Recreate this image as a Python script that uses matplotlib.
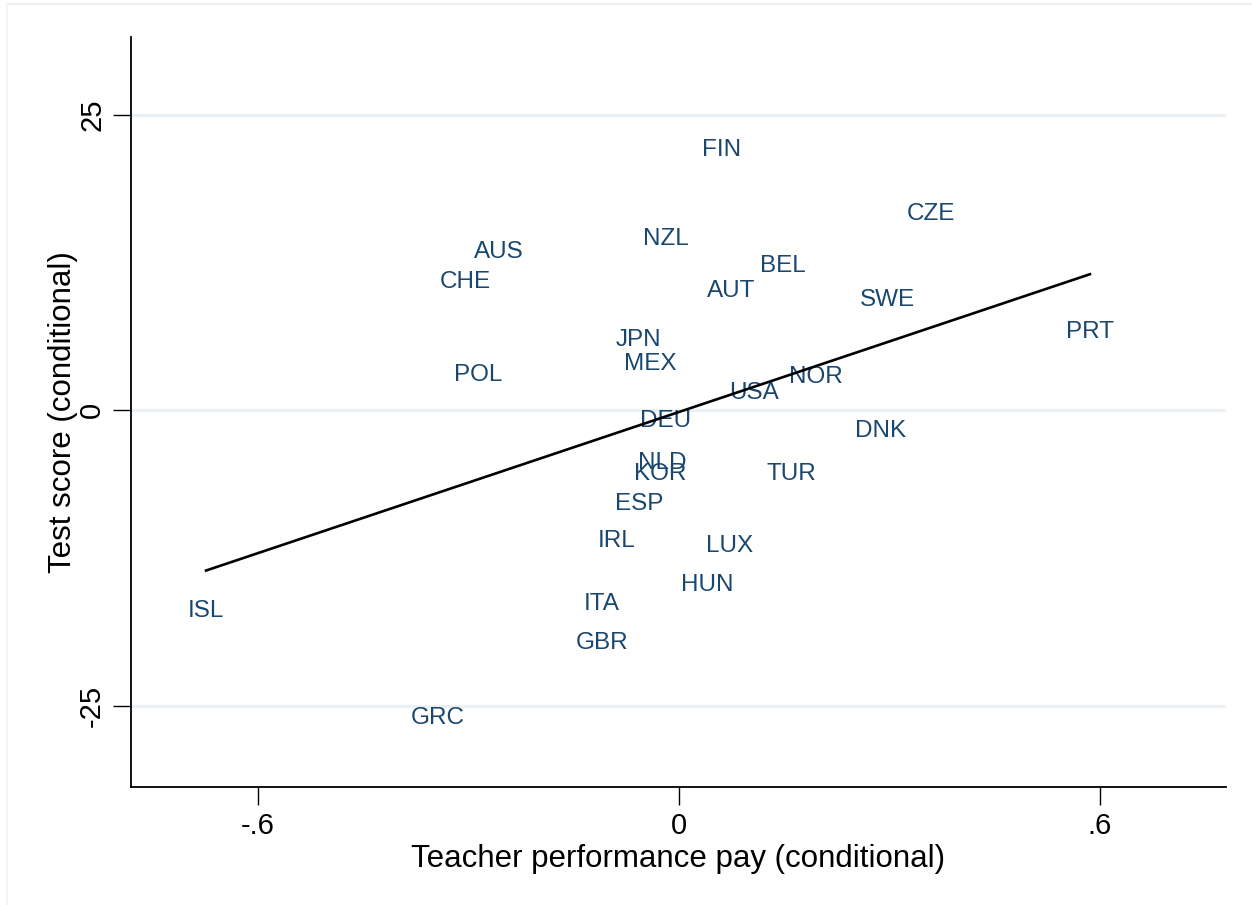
import numpy as np
import matplotlib
matplotlib.use("Agg")
import matplotlib.pyplot as plt
from matplotlib.lines import Line2D
from matplotlib.transforms import offset_copy

countries = ["FIN", "CZE", "NZL", "AUS", "BEL", "CHE", "AUT", "SWE", "PRT", "JPN",
             "MEX", "POL", "NOR", "USA", "DEU", "DNK", "NLD", "KOR", "TUR", "ESP",
             "IRL", "LUX", "HUN", "ITA", "ISL", "GBR", "GRC"]
perf_pay = [0.061, 0.359, -0.019, -0.257, 0.148, -0.304, 0.074, 0.298, 0.586, -0.058,
            -0.041, -0.286, 0.195, 0.107, -0.019, 0.288, -0.023, -0.027, 0.160, -0.057,
            -0.088, 0.073, 0.040, -0.110, -0.674, -0.110, -0.343]
test_score = [22.25, 16.8, 14.7, 13.6, 12.4, 11.0, 10.3, 9.5, 6.8, 6.1,
              4.1, 3.2, 3.0, 1.6, -0.7, -1.6, -4.3, -5.2, -5.2, -7.8,
              -10.9, -11.3, -14.6, -16.2, -16.8, -19.5, -25.9]
x_ticks = [-0.6, 0, 0.6]
x_ticklabels = ["-.6", "0", ".6"]
y_ticks = [-25, 0, 25]
y_ticklabels = ["-25", "0", "25"]

plt.rcParams['font.family'] = ['Liberation Sans', 'DejaVu Sans']

W, H = 1252, 905
fig = plt.figure(figsize=(W / 100, H / 100), dpi=100)
fig.patch.set_facecolor("white")
ax = fig.add_axes([131 / W, 1 - 787 / H, (1226 - 131) / W, (787 - 37) / H])

x = np.array(perf_pay)
y = np.array(test_score)

lab_tr = offset_copy(ax.transData, fig=fig, x=0, y=-1.5, units="points")
for c, xi, yi in zip(countries, x, y):
    ax.text(xi, yi, c, ha="center", va="center", fontsize=17.5, color="#1a476f",
            transform=lab_tr)

slope, intercept = np.polyfit(x, y, 1)
xl = np.array([x.min(), x.max()])
ax.plot(xl, intercept + slope * xl, color="black", lw=1.9, zorder=3)

ax.set_xlim(-0.781, 0.780)
ax.set_ylim(-31.9, 31.6)
ax.set_xticks(x_ticks)
ax.set_xticklabels(x_ticklabels)
ax.set_yticks(y_ticks)
ax.set_yticklabels(y_ticklabels, rotation=90, va="center")
for t in y_ticks:
    ax.axhline(t, color="#ebf0f5", lw=2.2, zorder=0)

for s in ["top", "right"]:
    ax.spines[s].set_visible(False)
for s in ["left", "bottom"]:
    ax.spines[s].set_linewidth(1.3)
    ax.spines[s].set_color("black")
ax.tick_params(axis="both", length=13, width=1.0, labelsize=21, pad=5, colors="black")
ax.set_xlabel("Teacher performance pay (conditional)", fontsize=22.5, labelpad=3)
ax.set_ylabel("Test score (conditional)", fontsize=22.5, labelpad=0)

fig.add_artist(Line2D([7 / W, 1.0], [1 - 4 / H, 1 - 4 / H], color="#eef0f5", lw=1.5))
fig.add_artist(Line2D([7 / W, 7 / W], [0, 1 - 4 / H], color="#f3f4f7", lw=1.5))

fig.savefig("out.png", dpi=100)
